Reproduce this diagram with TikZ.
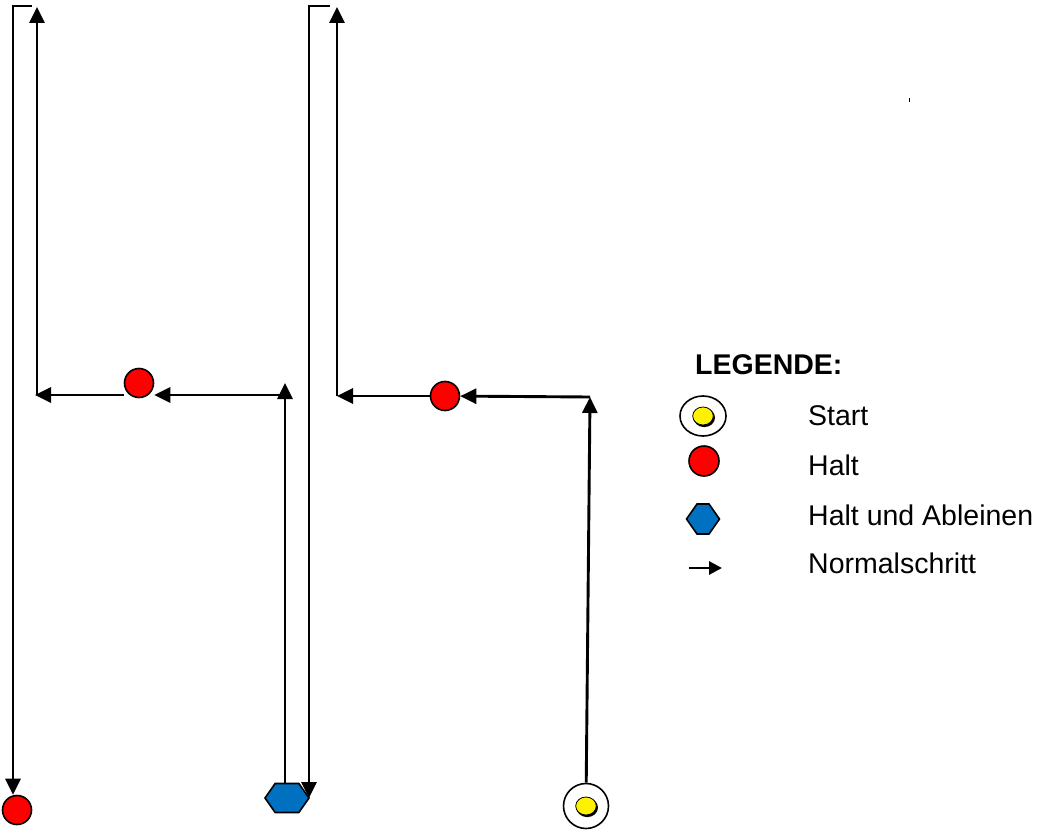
\documentclass[tikz,border=0pt]{standalone}
\usepackage{fontspec}
\setmainfont{Liberation Sans}
\usetikzlibrary{arrows.meta, shapes.geometric, shapes.symbols}
\definecolor{ableinblue}{RGB}{0,112,192}

\begin{document}
\begin{tikzpicture}[x=1pt, y=-1pt, font=\fontsize{28.5}{34}\selectfont,
    walk/.style={line width=2.9pt, -{Triangle[length=16pt, width=15pt]}},
    halt/.style={circle, draw=black, line width=1.6pt, fill=red, inner sep=0pt},
    ableinen/.style={signal, signal to=east and west, signal pointer angle=110, draw=black, line width=1.6pt, fill=ableinblue, inner sep=0pt},
    startmark/.style={ellipse, draw=black, line width=1.6pt, fill=white, inner sep=0pt,
        path picture={
            \fill[black] ([xshift=1.2pt, yshift=-1.6pt]path picture bounding box.center) ellipse [x radius=10.8pt, y radius=9.5pt];
            \filldraw[fill=yellow, draw=black, line width=0.8pt] (path picture bounding box.center) ellipse [x radius=10.3pt, y radius=9pt];
        }},
    legtext/.style={anchor=base west, inner sep=0pt}
]
                \useasboundingbox (0,0) rectangle (1044,832);

                \node[startmark, minimum width=45pt, minimum height=45pt] (start) at (586,806) {};
                \node[halt, minimum size=29pt] (haltB) at (445,396) {};
                \node[halt, minimum size=29pt] (haltA) at (139,383) {};
                \node[halt, minimum size=29pt] (haltC) at (17,810) {};
                \node[ableinen, minimum width=44pt, minimum height=29pt] (ableinen) at (287,798) {};

                \coordinate (r1) at (590,397);
                \coordinate (r2) at (337,396);
                \coordinate (r3) at (337,7);
                \coordinate (r4) at (330,6);
                \coordinate (r5) at (309,6);
                \coordinate (m1) at (285,383);
                \coordinate (m2) at (285,395);
                \coordinate (l1) at (35,395);
                \coordinate (l2) at (37,395);
                \coordinate (l3) at (37,7);
                \coordinate (l4) at (32,6);
                \coordinate (l5) at (13,6);

                \draw[walk] (start) -- (r1);
                \draw[walk] (r1) -- (haltB);
                \draw[walk] (haltB) -- (r2);
                \draw[walk] (r2) -- (r3);
                \draw[walk] (r4) -- (r5) -- (r5 |- ableinen.east);
                \draw[walk] (ableinen.north -| m1) -- (m1);
                \draw[walk] (m2) -- (m2 -| haltA.east);
                \draw[walk] (m2 -| haltA.west) -- (l1);
                \draw[walk] (l2) -- (l3);
                \draw[walk] (l4) -- (l5) -- (l5 |- haltC.north);

                \fill (908.5,98) rectangle (910,102);

                % legend
                \node[legtext, font=\fontsize{28.5}{34}\selectfont\bfseries] (legtitle) at (695,374) {LEGENDE:};
                \node[startmark, minimum width=46pt, minimum height=40pt] (startL) at (703,416) {};
                \node[halt, minimum size=30pt] (haltL) at (704,461) {};
                \node[ableinen, minimum width=33pt, minimum height=30pt] (ableinenL) at (703,519) {};
                \coordinate (a1) at (689,568);
                \coordinate (a2) at (722,568);
                \draw[walk, -{Triangle[length=13pt, width=13pt]}] (a1) -- (a2);
                \node[legtext] (txtstart) at (808,425) {Start};
                \node[legtext] (txthalt) at (808,475) {Halt};
                \node[legtext] (txtableinen) at (808,525) {Halt und Ableinen};
                \node[legtext] (txtschritt) at (808,573) {Normalschritt};
\end{tikzpicture}
\end{document}
